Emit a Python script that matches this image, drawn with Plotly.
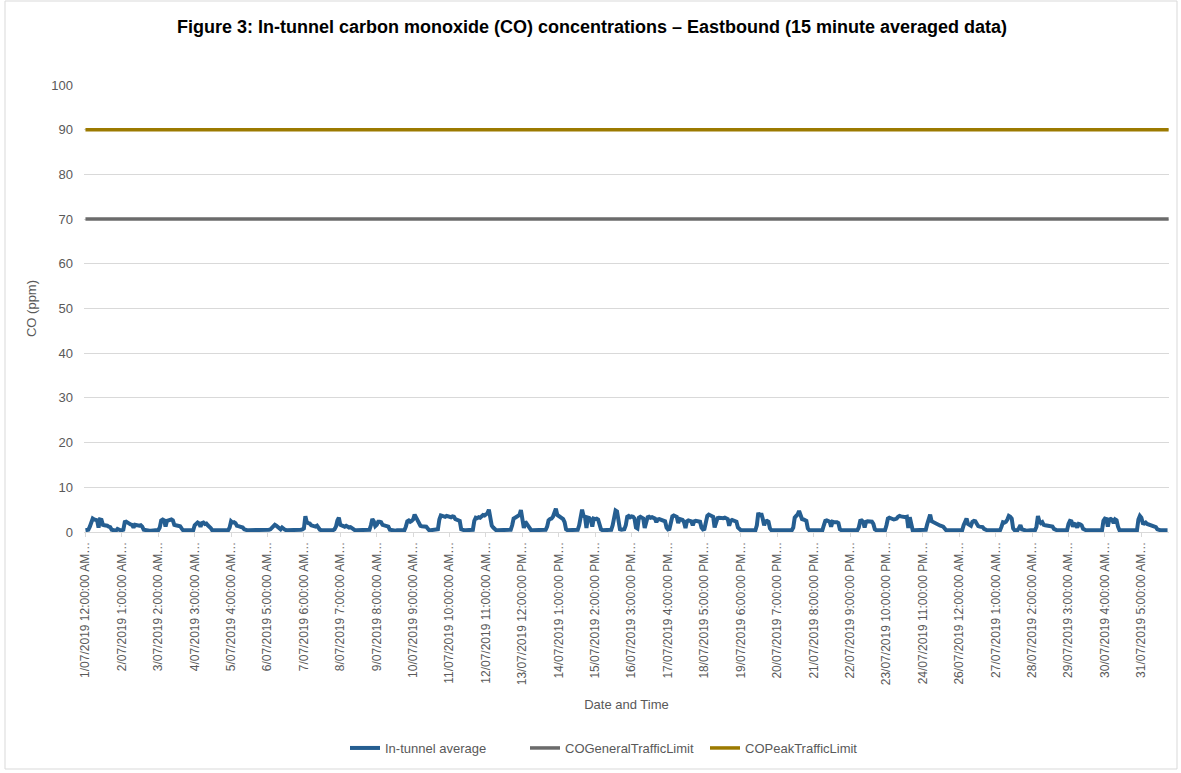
import plotly.graph_objects as go

# ---------------- data (hourly readings of the 15-minute series, ppm) ----------------
tick_labels = [
    "1/07/2019 12:00:00 AM…", "2/07/2019 1:00:00 AM…", "3/07/2019 2:00:00 AM…",
    "4/07/2019 3:00:00 AM…", "5/07/2019 4:00:00 AM…", "6/07/2019 5:00:00 AM…",
    "7/07/2019 6:00:00 AM…", "8/07/2019 7:00:00 AM…", "9/07/2019 8:00:00 AM…",
    "10/07/2019 9:00:00 AM…", "11/07/2019 10:00:00 AM…", "12/07/2019 11:00:00 AM…",
    "13/07/2019 12:00:00 PM…", "14/07/2019 1:00:00 PM…", "15/07/2019 2:00:00 PM…",
    "16/07/2019 3:00:00 PM…", "17/07/2019 4:00:00 PM…", "18/07/2019 5:00:00 PM…",
    "19/07/2019 6:00:00 PM…", "20/07/2019 7:00:00 PM…", "21/07/2019 8:00:00 PM…",
    "22/07/2019 9:00:00 PM…", "23/07/2019 10:00:00 PM…", "24/07/2019 11:00:00 PM…",
    "26/07/2019 12:00:00 AM…", "27/07/2019 1:00:00 AM…", "28/07/2019 2:00:00 AM…",
    "29/07/2019 3:00:00 AM…", "30/07/2019 4:00:00 AM…", "31/07/2019 5:00:00 AM…",
]
label_interval = 100          # categories between labels (15-minute samples)
samples_per_hour = 4
n_samples = 2976              # July 2019, 15-minute data

jul01 = [0.4,0.4,0.5,1.2,2.4,3.0,2.8,2.7,2.6,1.0,2.8,2.7,1.6,1.5,1.5,1.4,1.2,1.1,0.5,0.4,0.4,0.3,0.7,0.4]
jul02 = [0.4,0.4,0.5,2.2,2.3,2.1,1.8,1.7,1.6,1.0,1.6,1.5,1.5,1.4,1.5,1.2,0.5,0.4,0.4,0.4,0.3,0.3,0.4,0.4]
jul03 = [0.4,0.4,0.4,1.0,2.6,2.8,2.6,1.2,2.5,2.6,2.7,2.8,2.6,1.6,1.5,1.5,1.4,1.3,0.8,0.4,0.4,0.3,0.4,0.4]
jul04 = [0.4,0.4,0.4,1.5,2.0,2.1,1.9,1.2,2.0,2.1,1.8,1.9,1.5,1.3,0.9,0.4,0.4,0.4,0.3,0.4,0.4,0.4,0.4,0.4]
jul05 = [0.4,0.4,0.4,1.0,2.4,2.1,2.2,2.0,1.4,1.3,1.2,1.3,1.0,0.6,0.4,0.4,0.4,0.4,0.4,0.4,0.3,0.3,0.4,0.4]
jul06 = [0.4,0.3,0.3,0.3,0.4,0.4,0.5,0.6,0.9,1.3,1.6,1.4,1.2,0.8,0.6,1.0,0.6,0.5,0.4,0.4,0.4,0.4,0.3,0.4]
jul07 = [0.4,0.4,0.4,0.4,0.5,0.6,0.8,3.5,2.2,2.0,1.9,1.5,1.4,1.3,1.2,1.4,0.8,0.5,0.4,0.4,0.4,0.3,0.4,0.4]
jul08 = [0.4,0.4,0.4,0.6,1.2,2.6,3.2,1.6,1.5,1.3,1.2,1.4,1.2,1.0,1.1,0.9,0.5,0.4,0.4,0.4,0.4,0.3,0.4,0.4]
jul09 = [0.4,0.4,0.4,0.5,1.5,2.9,2.4,1.3,1.6,2.3,2.3,2.2,1.6,1.5,1.5,1.4,1.2,0.5,0.4,0.4,0.4,0.3,0.4,0.4]
jul10 = [0.4,0.4,0.4,0.4,1.2,2.4,2.6,2.3,2.5,2.8,3.9,3.2,2.6,2.2,1.4,1.3,1.2,1.3,1.2,0.8,0.4,0.4,0.4,0.4]
jul11 = [0.4,0.4,0.6,2.8,3.7,3.6,3.5,3.4,3.6,3.5,3.4,3.3,3.5,3.4,2.9,2.8,2.7,2.5,0.6,0.4,0.4,0.4,0.4,0.4]
jul12 = [0.4,0.4,0.5,2.5,3.2,3.1,3.3,3.2,3.6,3.8,3.7,3.9,4.2,5.0,3.5,1.4,1.0,0.6,0.4,0.4,0.4,0.4,0.4,0.4]
jul13 = [0.4,0.4,0.4,0.4,0.5,1.5,3.0,3.2,3.5,3.7,3.8,4.9,3.4,0.9,2.3,1.8,1.0,0.6,0.4,0.4,0.4,0.4,0.4,0.4]
jul14 = [0.4,0.4,0.4,0.4,0.5,1.2,2.6,2.9,3.0,3.4,4.2,5.2,3.8,3.6,3.4,3.1,2.9,2.2,0.6,0.4,0.4,0.4,0.4,0.4]
jul15 = [0.4,0.4,0.5,1.5,3.3,5.0,3.6,3.4,0.9,3.2,3.1,2.8,1.2,3.0,2.9,3.0,2.8,1.5,0.6,0.4,0.4,0.4,0.4,0.4]
jul16 = [0.4,0.5,1.5,3.5,4.8,4.6,2.0,0.6,0.5,0.5,0.6,1.5,3.4,3.6,3.3,3.5,3.4,3.0,1.0,0.8,3.2,3.4,3.3,3.0]
jul17 = [0.9,2.5,3.3,3.4,3.2,3.3,3.1,3.0,2.2,2.8,2.9,2.8,2.7,2.6,2.4,1.0,0.6,0.7,2.0,3.5,3.7,3.6,3.4,2.0]
jul18 = [2.9,2.8,2.7,2.2,0.9,2.4,2.6,2.5,2.4,1.5,2.4,2.5,2.5,2.4,2.3,1.0,0.6,0.7,2.2,3.6,3.9,3.7,3.6,3.4]
jul19 = [1.0,2.5,3.1,3.2,3.1,3.2,3.1,3.2,3.0,2.9,1.4,2.5,2.7,2.6,2.5,2.3,1.0,0.5,0.4,0.4,0.4,0.4,0.4,0.4]
jul20 = [0.4,0.4,0.4,0.4,0.4,1.5,4.3,3.5,4.2,3.0,1.5,2.4,2.5,2.3,0.8,0.4,0.4,0.4,0.4,0.4,0.4,0.3,0.4,0.4]
jul21 = [0.4,0.4,0.4,0.4,0.4,0.4,1.0,3.2,3.6,3.9,4.7,3.5,2.9,2.8,2.7,2.5,0.8,0.4,0.4,0.4,0.4,0.4,0.3,0.4]
jul22 = [0.4,0.4,0.4,1.5,2.5,2.6,2.5,2.3,1.2,2.3,2.2,2.3,2.2,2.0,0.6,0.4,0.4,0.4,0.4,0.4,0.3,0.4,0.4,0.4]
jul23 = [0.4,0.4,0.4,1.0,2.5,2.6,2.3,1.0,2.3,2.4,2.3,2.2,2.3,1.8,0.6,0.4,0.4,0.4,0.4,0.4,0.3,0.4,1.5,3.0]
jul24 = [3.2,3.0,2.9,2.8,2.9,3.0,3.4,3.6,3.5,3.4,3.3,3.3,3.4,0.9,3.3,1.2,0.4,0.4,0.4,0.4,0.4,0.3,0.4,0.4]
jul25 = [0.4,0.5,1.8,3.0,3.9,2.4,2.2,2.0,1.9,1.6,1.5,1.4,1.3,1.2,0.8,0.4,0.4,0.4,0.4,0.4,0.4,0.3,0.4,0.4]
jul26 = [0.4,0.4,0.4,1.5,2.6,3.0,1.8,1.5,1.4,2.3,2.5,2.4,1.6,1.3,1.2,1.2,1.1,0.7,0.4,0.4,0.4,0.4,0.3,0.4]
jul27 = [0.4,0.4,0.4,0.4,0.4,1.2,2.2,2.1,2.3,2.8,3.6,3.4,3.0,0.8,0.4,0.4,0.4,0.9,1.5,0.6,0.4,0.4,0.3,0.4]
jul28 = [0.4,0.4,0.4,0.4,0.4,1.2,3.6,2.4,2.0,2.2,1.6,1.5,1.4,1.3,1.3,1.2,1.2,0.7,0.4,0.4,0.4,0.3,0.4,0.4]
jul29 = [0.4,0.4,0.4,1.8,2.5,2.4,1.2,1.8,1.7,1.0,1.8,1.7,1.5,0.7,0.4,0.4,0.4,0.4,0.4,0.4,0.3,0.4,0.4,0.4]
jul30 = [0.4,0.4,0.4,2.5,3.0,2.9,1.2,2.8,2.9,2.7,2.0,2.8,2.6,1.2,0.4,0.4,0.4,0.4,0.4,0.4,0.3,0.4,0.4,0.4]
jul31 = [0.4,0.4,0.4,2.8,3.6,3.2,2.0,1.9,2.1,1.8,1.7,1.6,1.3,1.2,1.2,1.1,0.6,0.4,0.4,0.4,0.4,0.3,0.4,0.4]

general_traffic_limit = 70
peak_traffic_limit = 90

days = [jul01, jul02, jul03, jul04, jul05, jul06, jul07, jul08, jul09, jul10, jul11,
        jul12, jul13, jul14, jul15, jul16, jul17, jul18, jul19, jul20, jul21, jul22,
        jul23, jul24, jul25, jul26, jul27, jul28, jul29, jul30, jul31]

co_values = [v for day in days for v in day]
co_index = [i * samples_per_hour for i in range(len(co_values))]
tick_vals = [k * label_interval for k in range(len(tick_labels))]

# ---------------- figure ----------------
BLUE = "#255e91"
GREY = "#6b6b6b"
GOLD = "#9c7a00"
TXT = "#595959"
GRID = "#d9d9d9"
FONT = "Liberation Sans"

fig = go.Figure()
fig.add_trace(go.Scatter(x=co_index, y=co_values, mode="lines", name="In-tunnel average",
                         line=dict(color=BLUE, width=4)))
fig.add_trace(go.Scatter(x=[0, n_samples - 1], y=[general_traffic_limit] * 2, mode="lines",
                         name="COGeneralTrafficLimit", line=dict(color=GREY, width=3.5)))
fig.add_trace(go.Scatter(x=[0, n_samples - 1], y=[peak_traffic_limit] * 2, mode="lines",
                         name="COPeakTrafficLimit", line=dict(color=GOLD, width=3.5)))

L, R, T, B = 84, 12, 85, 241
W, H = 1181, 773
pw, ph = W - L - R, H - T - B

def px(xp):
    return (xp - L) / pw

def py(yp):
    return (H - B - yp) / ph

fig.update_layout(
    width=W, height=H,
    margin=dict(l=L, r=R, t=T, b=B, autoexpand=False),
    paper_bgcolor="white", plot_bgcolor="white",
    font=dict(family=FONT, size=12, color=TXT),
    title=dict(text="<b>Figure 3: In-tunnel carbon monoxide (CO) concentrations – Eastbound (15 minute averaged data)</b>",
               x=px(592), xref="paper", xanchor="center", y=1 - 27 / H, yanchor="middle",
               font=dict(family=FONT, size=18, color="#000000")),
    showlegend=True,
    legend=dict(orientation="h", x=px(345), xanchor="left", y=py(748), yanchor="middle",
                font=dict(family=FONT, size=13, color=TXT), traceorder="normal",
                entrywidth=135, entrywidthmode="pixels",
                itemwidth=30, bgcolor="rgba(0,0,0,0)"),
    xaxis=dict(range=[-4, n_samples], tickmode="array", tickvals=tick_vals, ticktext=tick_labels,
               tickangle=-90, tickfont=dict(family=FONT, size=12, color=TXT),
               showgrid=False, zeroline=False, showline=True, linecolor=GRID, linewidth=1,
               ticks="outside", ticklen=4, tickcolor=GRID,
               title=dict(text="Date and Time", font=dict(family=FONT, size=13, color=TXT), standoff=15)),
    yaxis=dict(range=[0, 100], tickmode="linear", tick0=0, dtick=10,
               tickfont=dict(family=FONT, size=13, color=TXT),
               showgrid=True, gridcolor=GRID, gridwidth=1, zeroline=False, showline=False,
               ticks="", ticklabelstandoff=10,
               title=dict(text="CO (ppm)", font=dict(family=FONT, size=13, color=TXT), standoff=11)),
    shapes=[dict(type="rect", xref="paper", yref="paper",
                 x0=px(5), x1=px(1177), y0=py(769), y1=py(1),
                 line=dict(color=GRID, width=1), fillcolor="rgba(0,0,0,0)", layer="below")],
)

fig.write_html("out.html", config={"displayModeBar": False},
               post_script="document.body.style.margin='0';")
